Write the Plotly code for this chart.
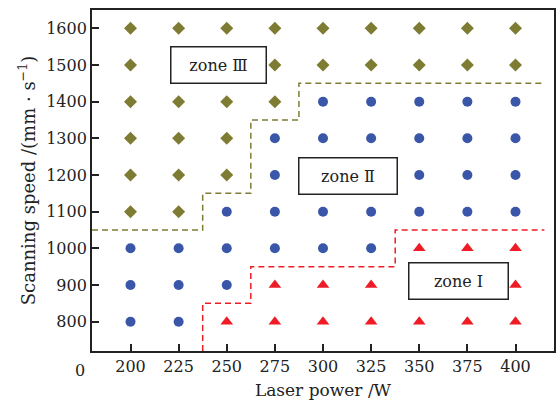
import plotly.graph_objects as go

# ---- data ----
zone3_x = [200, 225, 250, 275, 300, 325, 350, 375, 400,
           200, 275, 300, 325, 350, 375, 400,
           200, 225, 250, 275,
           200, 225, 250,
           200, 225, 250,
           200, 225]
zone3_y = [1600] * 9 + [1500] * 7 + [1400] * 4 + [1300] * 3 + [1200] * 3 + [1100] * 2

zone2_x = [300, 325, 350, 375, 400,
           275, 300, 325, 350, 375, 400,
           275, 350, 375, 400,
           250, 275, 300, 325, 350, 375, 400,
           200, 225, 250, 275, 300, 325,
           200, 225, 250,
           200, 225]
zone2_y = [1400] * 5 + [1300] * 6 + [1200] * 4 + [1100] * 7 + [1000] * 6 + [900] * 3 + [800] * 2

zone1_x = [350, 375, 400,
           275, 300, 325, 400,
           250, 275, 300, 325, 350, 375, 400]
zone1_y = [1000] * 3 + [900] * 4 + [800] * 7

# boundaries
b23_x = [180, 237.5, 237.5, 262.5, 262.5, 287.5, 287.5, 415]
b23_y = [1050, 1050, 1150, 1150, 1350, 1350, 1450, 1450]
b12_x = [237.5, 237.5, 262.5, 262.5, 337.5, 337.5, 415]
b12_y = [720, 850, 850, 950, 950, 1050, 1050]

x_ticks = [200, 225, 250, 275, 300, 325, 350, 375, 400]
y_ticks = [800, 900, 1000, 1100, 1200, 1300, 1400, 1500, 1600]

OLIVE = "#7e7c32"
BLUE = "#3a56a8"
RED = "#ee1c25"
FONT = "DejaVu Serif"

fig = go.Figure()
fig.add_trace(go.Scatter(x=b23_x, y=b23_y, mode="lines",
                         line=dict(color=OLIVE, width=1.5, dash="6px,4px"), hoverinfo="skip"))
fig.add_trace(go.Scatter(x=b12_x, y=b12_y, mode="lines",
                         line=dict(color=RED, width=1.5, dash="6px,4px"), hoverinfo="skip"))
fig.add_trace(go.Scatter(x=zone3_x, y=zone3_y, mode="markers",
                         marker=dict(symbol="diamond", size=10, color=OLIVE)))
fig.add_trace(go.Scatter(x=zone2_x, y=zone2_y, mode="markers",
                         marker=dict(symbol="circle", size=10, color=BLUE)))
fig.add_trace(go.Scatter(x=zone1_x, y=zone1_y, mode="markers",
                         marker=dict(symbol="triangle-up", size=11, color=RED)))

box = dict(showarrow=False, bgcolor="white", bordercolor="#222", borderwidth=1.5,
           borderpad=2, font=dict(family=FONT, size=16, color="#222"),
           xref="x", yref="y", height=31)
fig.add_annotation(x=245.5, y=1500, text="zone Ⅲ", width=90, **box)
fig.add_annotation(x=313, y=1198, text="zone Ⅱ", width=93, **box)
fig.add_annotation(x=370.5, y=911, text="zone Ⅰ", width=94, **box)
fig.add_annotation(x=-0.026, y=-0.056, xref="paper", yref="paper", text="0",
                   showarrow=False, font=dict(family=FONT, size=16, color="#222"),
                   xanchor="center", yanchor="middle")

axis_common = dict(showgrid=False, zeroline=False, showline=True, mirror=True,
                   linecolor="#222", linewidth=1.8, ticks="inside", ticklen=7,
                   tickwidth=1.5, tickcolor="#222",
                   tickfont=dict(family=FONT, size=16, color="#222"))
fig.update_xaxes(range=[180, 420], tickvals=x_ticks,
                 title=dict(text="Laser power /W", font=dict(family=FONT, size=17, color="#222"),
                            standoff=9),
                 **axis_common)
fig.update_yaxes(range=[720, 1650], tickvals=y_ticks,
                 title=dict(text="Scanning speed /(mm · s<sup>−1</sup>)",
                            font=dict(family=FONT, size=18, color="#222"), standoff=6),
                 **axis_common)
fig.update_layout(width=557, height=404, margin=dict(l=92, r=1, t=10, b=53),
                  plot_bgcolor="white", paper_bgcolor="white", showlegend=False)
fig.write_html("out.html")
